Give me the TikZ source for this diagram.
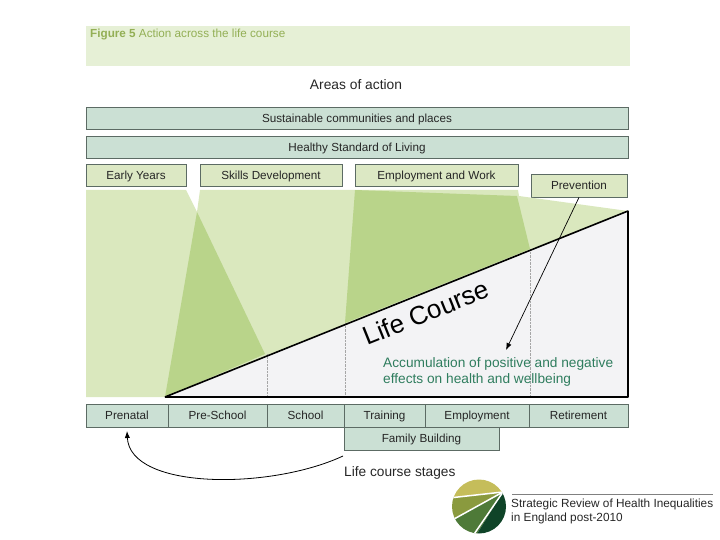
\documentclass[tikz,border=0pt]{standalone}
\usepackage{fontspec}
\setmainfont{Liberation Sans}
\usepackage{tikz}
\usetikzlibrary{arrows.meta}
\definecolor{bandgreen}{HTML}{E6F0D6}
\definecolor{titlegreen}{HTML}{93AF55}
\definecolor{teal}{HTML}{CBE0D4}
\definecolor{boxgreen}{HTML}{DCE8C4}
\definecolor{areagreen}{HTML}{DAE8BE}
\definecolor{darkarea}{HTML}{B9D48A}
\definecolor{greyarea}{HTML}{F3F3F5}
\definecolor{edgegrey}{HTML}{5C6B64}
\definecolor{notegreen}{HTML}{2F7D5E}
\definecolor{logoyellow}{HTML}{C5BD5A}
\definecolor{logoolive}{HTML}{8A9A3E}
\definecolor{logogreen}{HTML}{4E7A38}
\definecolor{logodark}{HTML}{0F4428}
\tikzset{
	tealbox/.style={draw=edgegrey, line width=0.8pt, fill=teal, inner sep=0pt, minimum height=22pt, text height=8.5pt, text depth=0pt, text=black!85, font=\fontsize{11.7}{13}\selectfont},
	areabox/.style={draw=edgegrey, line width=0.8pt, fill=boxgreen, inner sep=0pt, minimum height=22pt, text height=8.5pt, text depth=0pt, text=black!85, font=\fontsize{11.7}{13}\selectfont}
}
\begin{document}
\begin{tikzpicture}[x=1pt, y=-1pt, >={Latex[length=7pt]}]
	\useasboundingbox (0,0) rectangle (720,540);
	% title band
	\fill[bandgreen] (86,26) rectangle (630,66);
	\node[anchor=west, inner sep=0pt, text=titlegreen, font=\fontsize{11.7}{13}\selectfont] (title) at (90,35) {\textbf{Figure 5} Action across the life course};
	\node[font=\fontsize{13.8}{15}\selectfont, inner sep=0pt, text=black!85] (areas) at (356,85) {Areas of action};
	% areas of action
	\node[tealbox, minimum width=542pt] (communities) at (357,118) {Sustainable communities and places};
	\node[tealbox, minimum width=542pt] (standard) at (357,147) {Healthy Standard of Living};
	\node[areabox, minimum width=100pt] (early) at (136,175) {Early Years};
	\node[areabox, minimum width=142pt] (skills) at (271,175) {Skills Development};
	\node[areabox, minimum width=163pt] (work) at (436.5,175) {Employment and Work};
	\node[areabox, minimum width=96pt, minimum height=23pt] (prevention) at (579,185.5) {Prevention};
	% wedges above the life course
	\fill[greyarea] (165,397) -- (628,211) -- (628,397) -- cycle;
	\fill[areagreen] (86,190) -- (186,190) -- (197,212) -- (200,190) -- (355,190) -- (518,190) -- (519,196) -- (628,211) -- (165,397) -- (86,397) -- cycle;
	\fill[darkarea] (197,212) -- (265,354) -- (165,397) -- cycle;
	\fill[darkarea] (355,190) -- (517,196) -- (530,249) -- (345,323) -- cycle;
	% stages marked on the wedge
	\draw[densely dotted, gray!70] (267,354) -- (267,397);
	\draw[densely dotted, gray!70] (345,323) -- (345,397);
	\draw[densely dotted, gray!70] (530,249) -- (530,397);
	\draw[line width=1.6pt, line join=bevel] (165,397) -- (628,211) -- (628,397) -- cycle;
	\node[rotate=21.9, font=\fontsize{26}{28}\selectfont, inner sep=0pt] (course) at (426,312.5) {Life Course};
	\node[anchor=north west, align=left, inner sep=0pt, text=notegreen, font=\fontsize{13.7}{16}\selectfont] (effects) at (383,357) {Accumulation of positive and negative\\effects on health and wellbeing};
	\coordinate (effectsend) at (506,350);
	\draw[->, line width=0.7pt] (prevention.south) -- (effectsend);
	% life course stages
	\node[tealbox, minimum width=82pt, minimum height=23pt] (prenatal) at (127,415.5) {Prenatal};
	\node[tealbox, minimum width=99pt, minimum height=23pt] (preschool) at (217.5,415.5) {Pre-School};
	\node[tealbox, minimum width=77pt, minimum height=23pt] (school) at (305.5,415.5) {School};
	\node[tealbox, minimum width=81pt, minimum height=23pt] (training) at (384.5,415.5) {Training};
	\node[tealbox, minimum width=104pt, minimum height=23pt] (employment) at (477,415.5) {Employment};
	\node[tealbox, minimum width=99pt, minimum height=23pt] (retirement) at (578.5,415.5) {Retirement};
	\node[tealbox, minimum width=155pt, minimum height=23pt] (family) at (421.5,438.5) {Family Building};
	\node[anchor=west, inner sep=0pt, text=black!85, font=\fontsize{13.7}{15}\selectfont] (stages) at (344,473) {Life course stages};
	\coordinate (curvestart) at (343,456);
	\coordinate (curveend) at (127,431);
	\draw[->, line width=0.8pt] (curvestart) .. controls (270,490) and (130,490) .. (curveend);
	% logo
	\begin{scope}
		\clip (479,506.5) circle (27);
		\fill[logoyellow] (503,492) -- (440,499) -- (440,470) -- (503,470) -- cycle;
		\fill[logoolive] (503,492) -- (440,499) -- (445,524) -- cycle;
		\fill[logogreen] (503,492) -- (445,524) -- (470,545) -- cycle;
		\fill[logodark] (503,492) -- (470,545) -- (520,545) -- (520,492) -- cycle;
		\draw[white, line width=1.5pt] (503,492) -- (440,499);
		\draw[white, line width=1.5pt] (503,492) -- (445,524);
		\draw[white, line width=1.5pt] (503,492) -- (470,540);
	\end{scope}
	\draw[gray, line width=0.4pt] (512,494) -- (713,494);
	\node[anchor=north west, align=left, inner sep=0pt, font=\fontsize{11.8}{14}\selectfont, text=black!85] (review) at (511,498.5) {Strategic Review of Health Inequalities\\in England post-2010};
\end{tikzpicture}
\end{document}
